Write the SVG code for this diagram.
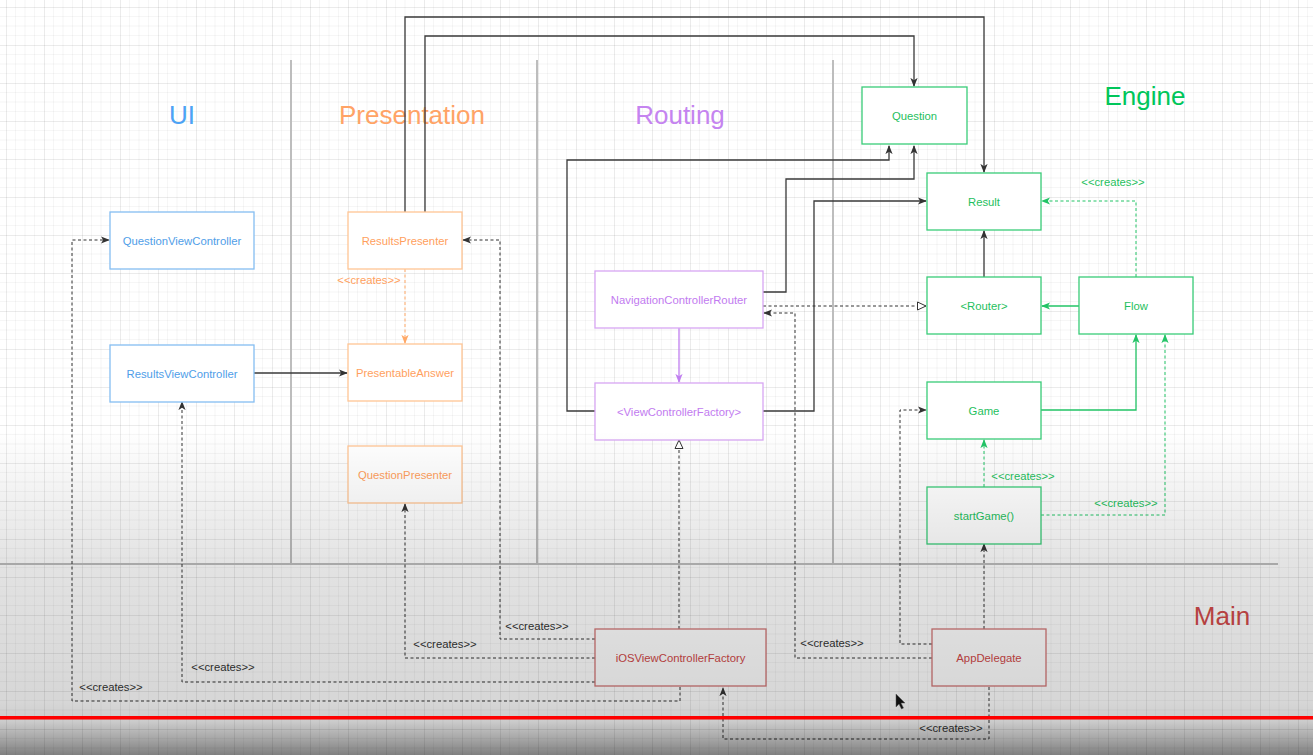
<svg xmlns="http://www.w3.org/2000/svg" width="1313" height="755" viewBox="0 0 1313 755">
<defs>
<pattern id="grid" x="6" y="7" width="38" height="38" patternUnits="userSpaceOnUse">
<path d="M9.5,0V38M19,0V38M28.5,0V38M0,9.5H38M0,19H38M0,28.5H38" stroke="#000" stroke-opacity="0.035" stroke-width="1" fill="none"/>
<path d="M0.5,0V38M0,0.5H38" stroke="#000" stroke-opacity="0.08" stroke-width="1" fill="none"/>
</pattern>
<linearGradient id="shade" x1="0" y1="0" x2="0" y2="755" gradientUnits="userSpaceOnUse">
<stop offset="0" stop-color="#000" stop-opacity="0"/>
<stop offset="0.57" stop-color="#000" stop-opacity="0"/>
<stop offset="0.745" stop-color="#000" stop-opacity="0.11"/>
<stop offset="0.93" stop-color="#000" stop-opacity="0.16"/>
<stop offset="0.955" stop-color="#000" stop-opacity="0.2"/>
<stop offset="0.98" stop-color="#000" stop-opacity="0.36"/>
<stop offset="1" stop-color="#000" stop-opacity="0.5"/>
</linearGradient>
<marker id="ak" viewBox="0 0 10 8" refX="9" refY="4" markerWidth="9" markerHeight="8" markerUnits="userSpaceOnUse" orient="auto">
<path d="M0,0L10,4L0,8L2.5,4z" fill="#333"/>
</marker>
<marker id="ag" viewBox="0 0 10 8" refX="9" refY="4" markerWidth="9" markerHeight="8" markerUnits="userSpaceOnUse" orient="auto">
<path d="M0,0L10,4L0,8L2.5,4z" fill="#22c466"/>
</marker>
<marker id="ao" viewBox="0 0 10 8" refX="9" refY="4" markerWidth="9" markerHeight="8" markerUnits="userSpaceOnUse" orient="auto">
<path d="M0,0L10,4L0,8L2.5,4z" fill="#ffa866"/>
</marker>
<marker id="ap" viewBox="0 0 10 8" refX="9" refY="4" markerWidth="9" markerHeight="8" markerUnits="userSpaceOnUse" orient="auto">
<path d="M0,0L10,4L0,8L2.5,4z" fill="#c07ef0"/>
</marker>
<marker id="tri" viewBox="0 0 10 10" refX="9.5" refY="5" markerWidth="10" markerHeight="10" markerUnits="userSpaceOnUse" orient="auto">
<path d="M1,1L9.5,5L1,9z" fill="#fff" stroke="#333" stroke-width="1"/>
</marker>
</defs>
<style>
text{font-family:"Liberation Sans",Arial,sans-serif}
.box{fill:#fff;stroke-width:1.3}
.nt{font-size:11.3px;text-anchor:middle;dominant-baseline:central}
.title{font-size:26px;text-anchor:middle}
.lbl{font-size:11.3px;text-anchor:middle;dominant-baseline:central;fill:#333}
.blue .box{stroke:#85bdf2}.blue text{fill:#4f9ee8}
.orange .box{stroke:#ffc594}.orange text{fill:#ff9f5e}
.purple .box{stroke:#d8a6f3}.purple text{fill:#c27bf0}
.green .box{stroke:#39cc78}.green text{fill:#1fbf5e}
.red .box{stroke:#d27676}.red text{fill:#d04848}
.solid{fill:none;stroke:#3a3a3a;stroke-width:1.3}
.dash{fill:none;stroke:#333;stroke-width:1;stroke-dasharray:3 2.5}
.gsolid{fill:none;stroke:#22c466;stroke-width:1.3}
.gdash{fill:none;stroke:#22c466;stroke-width:1;stroke-dasharray:3 2.5}
.odash{fill:none;stroke:#ffa866;stroke-width:1;stroke-dasharray:3 2.5}
.psolid{fill:none;stroke:#c07ef0;stroke-width:1.3}
.lane{stroke:#bdbdbd;stroke-width:2;fill:none}
</style>
<rect width="1313" height="755" fill="#fff"/>
<rect width="1313" height="755" fill="url(#grid)"/>
<g id="lanes">
<path class="lane" d="M291,60V563M537,60V563M833,60V563M0,564H1278"/>
<text class="title" x="182" y="124" fill="#4da3f5">UI</text>
<text class="title" x="412" y="124" fill="#ffa366">Presentation</text>
<text class="title" x="680" y="124" fill="#c584f0">Routing</text>
<text class="title" x="1145" y="105" fill="#00c65a">Engine</text>
<text class="title" x="1222" y="625" fill="#d04a4a">Main</text>
</g>
<g id="connectors">
<path class="solid" d="M405,212V17H984V172" marker-end="url(#ak)"/>
<path class="solid" d="M425,212V36H914V86" marker-end="url(#ak)"/>
<path class="solid" d="M595,411H567V160H889V146" marker-end="url(#ak)"/>
<path class="solid" d="M763,292H786V179H914V146" marker-end="url(#ak)"/>
<path class="solid" d="M763,411H814V201H926" marker-end="url(#ak)"/>
<path class="solid" d="M984,277V231" marker-end="url(#ak)"/>
<path class="solid" d="M253,373H347" marker-end="url(#ak)"/>
<path class="psolid" d="M679,328V382" marker-end="url(#ap)"/>
<path class="odash" d="M405,269V343" marker-end="url(#ao)"/>
<text class="lbl" x="369" y="280" fill="#ff9f5e" style="fill:#ff9f5e">&lt;&lt;creates&gt;&gt;</text>
<path class="gsolid" d="M1079,306H1042" marker-end="url(#ag)"/>
<path class="gsolid" d="M1041,410H1136V335" marker-end="url(#ag)"/>
<path class="gdash" d="M1136,277V201H1042" marker-end="url(#ag)"/>
<path class="gdash" d="M984,487V440" marker-end="url(#ag)"/>
<path class="gdash" d="M1041,515H1165V335" marker-end="url(#ag)"/>
<text class="lbl" x="1113" y="182" style="fill:#1fbf5e">&lt;&lt;creates&gt;&gt;</text>
<text class="lbl" x="1023" y="476" style="fill:#1fbf5e">&lt;&lt;creates&gt;&gt;</text>
<text class="lbl" x="1126" y="503" style="fill:#1fbf5e">&lt;&lt;creates&gt;&gt;</text>
<path class="dash" d="M763,306H926" marker-end="url(#tri)"/>
<path class="dash" d="M679,629V440" marker-end="url(#tri)"/>
<path class="dash" d="M595,639H500V240H463" marker-end="url(#ak)"/>
<path class="dash" d="M595,658H405V504" marker-end="url(#ak)"/>
<path class="dash" d="M595,682H182V402" marker-end="url(#ak)"/>
<path class="dash" d="M680,687V701H72V240H109" marker-end="url(#ak)"/>
<path class="dash" d="M989,687V739H723V688" marker-end="url(#ak)"/>
<path class="dash" d="M984,629V544" marker-end="url(#ak)"/>
<path class="dash" d="M932,644H900V410H926" marker-end="url(#ak)"/>
<path class="dash" d="M932,658H795V313H764" marker-end="url(#ak)"/>
<text class="lbl" x="537" y="626">&lt;&lt;creates&gt;&gt;</text>
<text class="lbl" x="445" y="644">&lt;&lt;creates&gt;&gt;</text>
<text class="lbl" x="223" y="667">&lt;&lt;creates&gt;&gt;</text>
<text class="lbl" x="111" y="687">&lt;&lt;creates&gt;&gt;</text>
<text class="lbl" x="832" y="643">&lt;&lt;creates&gt;&gt;</text>
<text class="lbl" x="951" y="728">&lt;&lt;creates&gt;&gt;</text>
</g>
<g id="QuestionViewController" class="blue"><rect class="box" x="110" y="212" width="144" height="57"/><text class="nt" x="182" y="240.5">QuestionViewController</text></g>
<g id="ResultsViewController" class="blue"><rect class="box" x="110" y="345" width="144" height="57"/><text class="nt" x="182" y="373.5">ResultsViewController</text></g>
<g id="ResultsPresenter" class="orange"><rect class="box" x="348" y="212" width="114" height="57"/><text class="nt" x="405" y="240.5">ResultsPresenter</text></g>
<g id="PresentableAnswer" class="orange"><rect class="box" x="348" y="344" width="114" height="57"/><text class="nt" x="405" y="372.5">PresentableAnswer</text></g>
<g id="QuestionPresenter" class="orange"><rect class="box" x="348" y="446" width="114" height="57"/><text class="nt" x="405" y="474.5">QuestionPresenter</text></g>
<g id="NavigationControllerRouter" class="purple"><rect class="box" x="595" y="271" width="168" height="57"/><text class="nt" x="679" y="299.5">NavigationControllerRouter</text></g>
<g id="ViewControllerFactory" class="purple"><rect class="box" x="595" y="383" width="168" height="57"/><text class="nt" x="679" y="411.5">&lt;ViewControllerFactory&gt;</text></g>
<g id="Question" class="green"><rect class="box" x="862" y="87" width="105" height="57"/><text class="nt" x="914.5" y="115.5">Question</text></g>
<g id="Result" class="green"><rect class="box" x="927" y="173" width="114" height="57"/><text class="nt" x="984" y="201.5">Result</text></g>
<g id="Router" class="green"><rect class="box" x="927" y="277" width="114" height="57"/><text class="nt" x="984" y="305.5">&lt;Router&gt;</text></g>
<g id="Flow" class="green"><rect class="box" x="1079" y="277" width="114" height="57"/><text class="nt" x="1136" y="305.5">Flow</text></g>
<g id="Game" class="green"><rect class="box" x="927" y="382" width="114" height="57"/><text class="nt" x="984" y="410.5">Game</text></g>
<g id="startGame" class="green"><rect class="box" x="927" y="487" width="114" height="57"/><text class="nt" x="984" y="515.5">startGame()</text></g>
<g id="iOSViewControllerFactory" class="red"><rect class="box" x="595" y="629" width="171" height="57"/><text class="nt" x="680.5" y="657.5">iOSViewControllerFactory</text></g>
<g id="AppDelegate" class="red"><rect class="box" x="932" y="629" width="114" height="57"/><text class="nt" x="989" y="657.5">AppDelegate</text></g>
<rect width="1313" height="755" fill="url(#shade)" pointer-events="none"/>
<rect x="0" y="716" width="1313" height="3.5" fill="#ff0000"/>
<path d="M896,694L896,707L899,704L901.5,709L903.5,708L901,703L905,703Z" fill="#111" stroke="#555" stroke-width="0.5"/>
</svg>
